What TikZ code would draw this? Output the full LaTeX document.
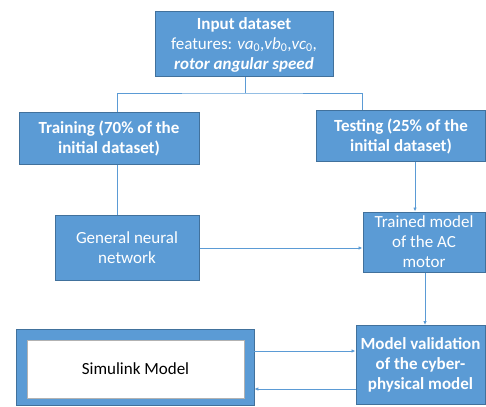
\documentclass[tikz,border=0pt]{standalone}
\usepackage{fontspec}
\setmainfont{Carlito}
\usetikzlibrary{arrows.meta}
\definecolor{boxfill}{HTML}{5B9BD5}
\definecolor{boxline}{HTML}{41719C}
\definecolor{conn}{HTML}{5B9BD5}
\tikzset{
  bluebox/.style={draw=boxline, line width=1pt, fill=boxfill, text=white, align=center, inner sep=0pt,
    font=\fontsize{17}{20}\selectfont},
  conline/.style={draw=conn, line width=0.9pt},
  conarrow/.style={conline, -{Latex[length=4pt,width=3.5pt]}},
}
\begin{document}
\begin{tikzpicture}[x=1pt,y=-1pt]
\useasboundingbox (0,0) rectangle (486,406);
\node[bluebox, minimum width=178pt, minimum height=65pt] (inp) at (244,44.5)
  {\textbf{Input dataset}\\features: \textit{va}\textsubscript{0},\textit{vb}\textsubscript{0},\textit{vc}\textsubscript{0},\\\textbf{\textit{rotor angular speed}}};
\node[bluebox, minimum width=180pt, minimum height=51pt] (train) at (109,138.5)
  {\textbf{Training (70\% of the}\\\textbf{initial dataset)}};
\node[bluebox, minimum width=169pt, minimum height=50pt] (test) at (401,136)
  {\textbf{Testing (25\% of the}\\\textbf{initial dataset)}};
\node[bluebox, minimum width=144pt, minimum height=65pt] (gnn) at (127,247.5)
  {General neural\\network};
\node[bluebox, minimum width=122pt, minimum height=60pt] (trained) at (424,242)
  {Trained model\\of the AC\\motor};
\node[bluebox, minimum width=129pt, minimum height=79pt] (valid) at (420.5,365)
  {\textbf{Model validation}\\\textbf{of the cyber-}\\\textbf{physical model}};
\node[draw=boxline, line width=0.6pt, fill=boxfill, minimum width=238pt, minimum height=76pt, inner sep=0pt] (simout) at (135,367) {};
\node[draw=gray!60, line width=0.8pt, fill=white, minimum width=217pt, minimum height=58pt, inner sep=0pt,
  font=\fontsize{17}{20}\selectfont] (sim) at (135.5,369) {Simulink Model};
\coordinate (split) at (245,93);
\draw[conline] (inp.south -| split) -- (split);
\draw[conline] (train.north -| 117,0) |- (split) -| (test.north -| 362,0);
\draw[conline] (train.south -| 117,0) -- (gnn.north -| 117,0);
\draw[conarrow] (test.south -| 415,0) -- (trained.north -| 415,0);
\draw[conarrow] (gnn.east |- 0,248) -- (trained.west |- 0,248);
\draw[conarrow] (trained.south -| 425,0) -- (valid.north -| 425,0);
\draw[conarrow] (simout.east |- 0,351) -- (valid.west |- 0,351);
\draw[conarrow] (valid.west |- 0,389) -- (simout.east |- 0,389);
\end{tikzpicture}
\end{document}
